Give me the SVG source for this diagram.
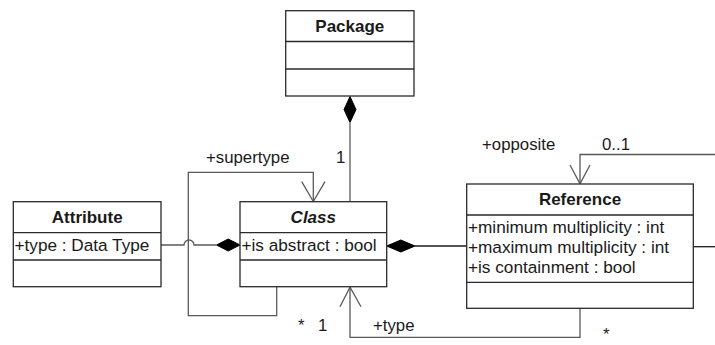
<svg xmlns="http://www.w3.org/2000/svg" width="715" height="345" viewBox="0 0 715 345">
  <style>
    .box { fill: #ffffff; stroke: #2a2a2a; stroke-width: 1.3; }
    .sep { stroke: #2a2a2a; stroke-width: 1.3; }
    .title { font-family: "Liberation Sans", Arial, sans-serif; font-size: 17px; font-weight: bold; fill: #1a1a1a; text-anchor: middle; }
    .attr { font-family: "Liberation Sans", Arial, sans-serif; font-size: 17.2px; fill: #1a1a1a; }
    .lbl { font-family: "Liberation Sans", Arial, sans-serif; font-size: 16.8px; fill: #1a1a1a; }
    .conn { fill: none; stroke: #5a5a5a; stroke-width: 1.3; }
    .conn-dark { fill: none; stroke: #1a1a1a; stroke-width: 1.3; }
    .diamond { fill: #000000; stroke: #000000; stroke-width: 1; }
  </style>

  <!-- connectors -->
  <g id="connectors">
    <!-- Package owns Class -->
    <path class="conn" d="M350,123 V201.7"/>
    <polygon class="diamond" points="350,96.5 356,109.5 350,122.5 344,109.5"/>

    <!-- Class owns Attribute (line hops over the supertype loop) -->
    <path class="conn" d="M161,245 H184 A5,5 0 0 1 194,245 H216"/>
    <polygon class="diamond" points="216.5,245 228.2,239 240,245 228.2,251"/>

    <!-- supertype self-association on Class -->
    <path class="conn" d="M276.7,286.7 V315.7 H188.3 V172.3 H313.3 V201.7"/>
    <path class="conn" d="M301.7,181.7 L313.3,201.5 L325,181.7"/>

    <!-- Class owns Reference -->
    <path class="conn-dark" d="M415,246 H466.7"/>
    <polygon class="diamond" points="386.7,246 400.8,240 415,246 400.8,252"/>

    <!-- Reference type -> Class -->
    <path class="conn" d="M580,308.3 V337.3 H350 V287"/>
    <path class="conn" d="M340,306.7 L350,287.2 L361,306.7"/>

    <!-- opposite self-association on Reference -->
    <path class="conn" d="M715,154.5 H580 V184"/>
    <path class="conn" d="M570,165 L580,183.8 L590,165"/>
    <path class="conn-dark" d="M693.3,246.7 H715"/>
  </g>

  <!-- connector labels -->
  <g id="labels">
    <text class="lbl" x="206" y="163">+supertype</text>
    <text class="lbl" x="336" y="163">1</text>
    <text class="lbl" x="298" y="331">*</text>
    <text class="lbl" x="318" y="331">1</text>
    <text class="lbl" x="373" y="331">+type</text>
    <text class="lbl" x="603" y="340">*</text>
    <text class="lbl" x="482" y="150">+opposite</text>
    <text class="lbl" x="602" y="150">0..1</text>
  </g>

  <!-- Package -->
  <g id="package">
    <rect class="box" x="285.7" y="10.7" width="128.3" height="85.3"/>
    <line class="sep" x1="285.7" y1="41.5" x2="414" y2="41.5"/>
    <line class="sep" x1="285.7" y1="69" x2="414" y2="69"/>
    <text class="title" x="349.8" y="31.5">Package</text>
  </g>

  <!-- Attribute -->
  <g id="attribute">
    <rect class="box" x="13.3" y="201.7" width="147.7" height="85"/>
    <line class="sep" x1="13.3" y1="232.7" x2="161" y2="232.7"/>
    <line class="sep" x1="13.3" y1="260" x2="161" y2="260"/>
    <text class="title" x="87.2" y="222.5">Attribute</text>
    <text class="attr" x="14.5" y="250.5">+type : Data Type</text>
  </g>

  <!-- Class (abstract) -->
  <g id="class">
    <rect class="box" x="240" y="201.7" width="146.7" height="85"/>
    <line class="sep" x1="240" y1="232.7" x2="386.7" y2="232.7"/>
    <line class="sep" x1="240" y1="260" x2="386.7" y2="260"/>
    <text class="title" x="313.3" y="222.5" font-style="italic">Class</text>
    <text class="attr" x="241.5" y="250.5">+is abstract : bool</text>
  </g>

  <!-- Reference -->
  <g id="reference">
    <rect class="box" x="466.7" y="184" width="226.6" height="124.3"/>
    <line class="sep" x1="466.7" y1="215" x2="693.3" y2="215"/>
    <line class="sep" x1="466.7" y1="282.3" x2="693.3" y2="282.3"/>
    <text class="title" x="580" y="204.8">Reference</text>
    <text class="attr" x="468" y="232.5">+minimum multiplicity : int</text>
    <text class="attr" x="468" y="252.5">+maximum multiplicity : int</text>
    <text class="attr" x="468" y="272.5">+is containment : bool</text>
  </g>
</svg>
